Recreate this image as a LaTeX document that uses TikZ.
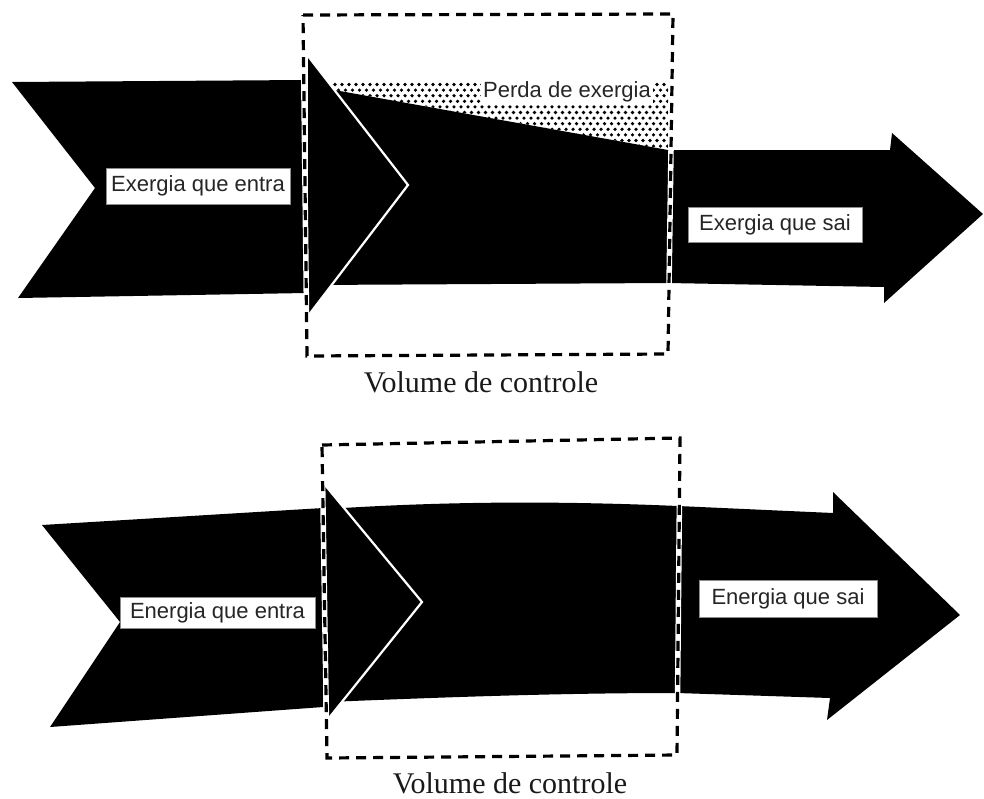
\documentclass[tikz,border=0pt]{standalone}
\usepackage{fontspec}
\setmainfont{Liberation Serif}
\newfontfamily\tagfont{Liberation Sans}
\begin{document}
\begin{tikzpicture}[x=1pt,y=-1pt,
  flow/.style={fill=black},
  headedge/.style={draw=white, line width=2.2pt, line join=miter},
  cvunder/.style={draw=white, line width=5.5pt},
  cvdash/.style={draw=black, line width=3.2pt, dash pattern=on 10pt off 7pt},
  tag/.style={fill=white, draw=black!45, line width=0.4pt, text=black!85,
    font=\tagfont\fontsize{22}{24}\selectfont, inner sep=0pt, align=center},
  cvlabel/.style={font=\fontsize{30}{34}\selectfont, anchor=base, text=black!90}]
\useasboundingbox (0,0) rectangle (984,798);

% ---------------- Exergy balance ----------------
% incoming stream
\fill[flow] (12,82) -- (306,80) -- (306,293) -- (18,298) -- (95,188) -- cycle;
% stream inside the control volume and outgoing arrow
\fill[flow] (312,86) -- (668,150) -- (890,150) -- (892,133) -- (983,214)
  -- (884,303) -- (884,287) -- (668,283) -- (312,285) -- cycle;
% exergy destroyed (dotted wedge)
\begin{scope}
  \clip (312,82) -- (668,82) -- (668,150) -- (312,86) -- cycle;
  \foreach \r in {0,...,12} {
    \foreach \c in {0,...,51} {
      \fill ({314+\c*7+mod(\r,2)*3.5},{84.5+\r*5.6}) circle (1.8);
    }
  }
\end{scope}
% arrow head of the incoming stream
\fill[flow] (308,56) -- (408,185) -- (308,316) -- cycle;
\draw[headedge] (308,56) -- (408,185) -- (308,316);
% control volume
\coordinate (a1) at (303,15);
\coordinate (a2) at (673,14);
\coordinate (a3) at (668,354);
\coordinate (a4) at (307,356);
\draw[cvunder] (a1) -- (a2) -- (a3) -- (a4) -- cycle;
\draw[cvdash] (a1) -- (a2) -- (a3) -- (a4) -- cycle;
% labels
\node[tag, minimum width=184pt, minimum height=36pt] (exin) at (198,186) {Exergia que entra};
\node[tag, minimum width=174pt, minimum height=35pt] (exout) at (775,224.5) {Exergia que sai};
\node[fill=white, inner sep=2pt, text=black!85,
  font=\tagfont\fontsize{22}{24}\selectfont] (loss) at (567,92) {Perda de exergia};
\node[cvlabel] (cv1) at (481,392) {Volume de controle};

% ---------------- Energy balance ----------------
% incoming stream
\fill[flow] (42,525) -- (323,508) -- (323,707) -- (50,727) -- (120,622) -- cycle;
% stream inside the control volume and outgoing arrow
\fill[flow] (327,509) .. controls (450,501) and (560,501) .. (678,506)
  -- (833,513) -- (833,492) -- (960,615) -- (827,720) -- (830,698)
  -- (677,693) .. controls (560,693) and (450,697) .. (327,702) -- cycle;
% arrow head of the incoming stream
\fill[flow] (325,485) -- (422,602) -- (325,723) -- cycle;
\draw[headedge] (325,485) -- (422,602) -- (325,723);
% control volume
\coordinate (b1) at (322,445);
\coordinate (b2) at (680,438);
\coordinate (b3) at (677,755);
\coordinate (b4) at (327,758);
\draw[cvunder] (b1) -- (b2) -- (b3) -- (b4) -- cycle;
\draw[cvdash] (b1) -- (b2) -- (b3) -- (b4) -- cycle;
% labels
\node[tag, minimum width=195pt, minimum height=31pt] (enin) at (217.5,612.5) {Energia que entra};
\node[tag, minimum width=178pt, minimum height=37pt] (enout) at (788,598.5) {Energia que sai};
\node[cvlabel] (cv2) at (510,793) {Volume de controle};
\end{tikzpicture}
\end{document}
